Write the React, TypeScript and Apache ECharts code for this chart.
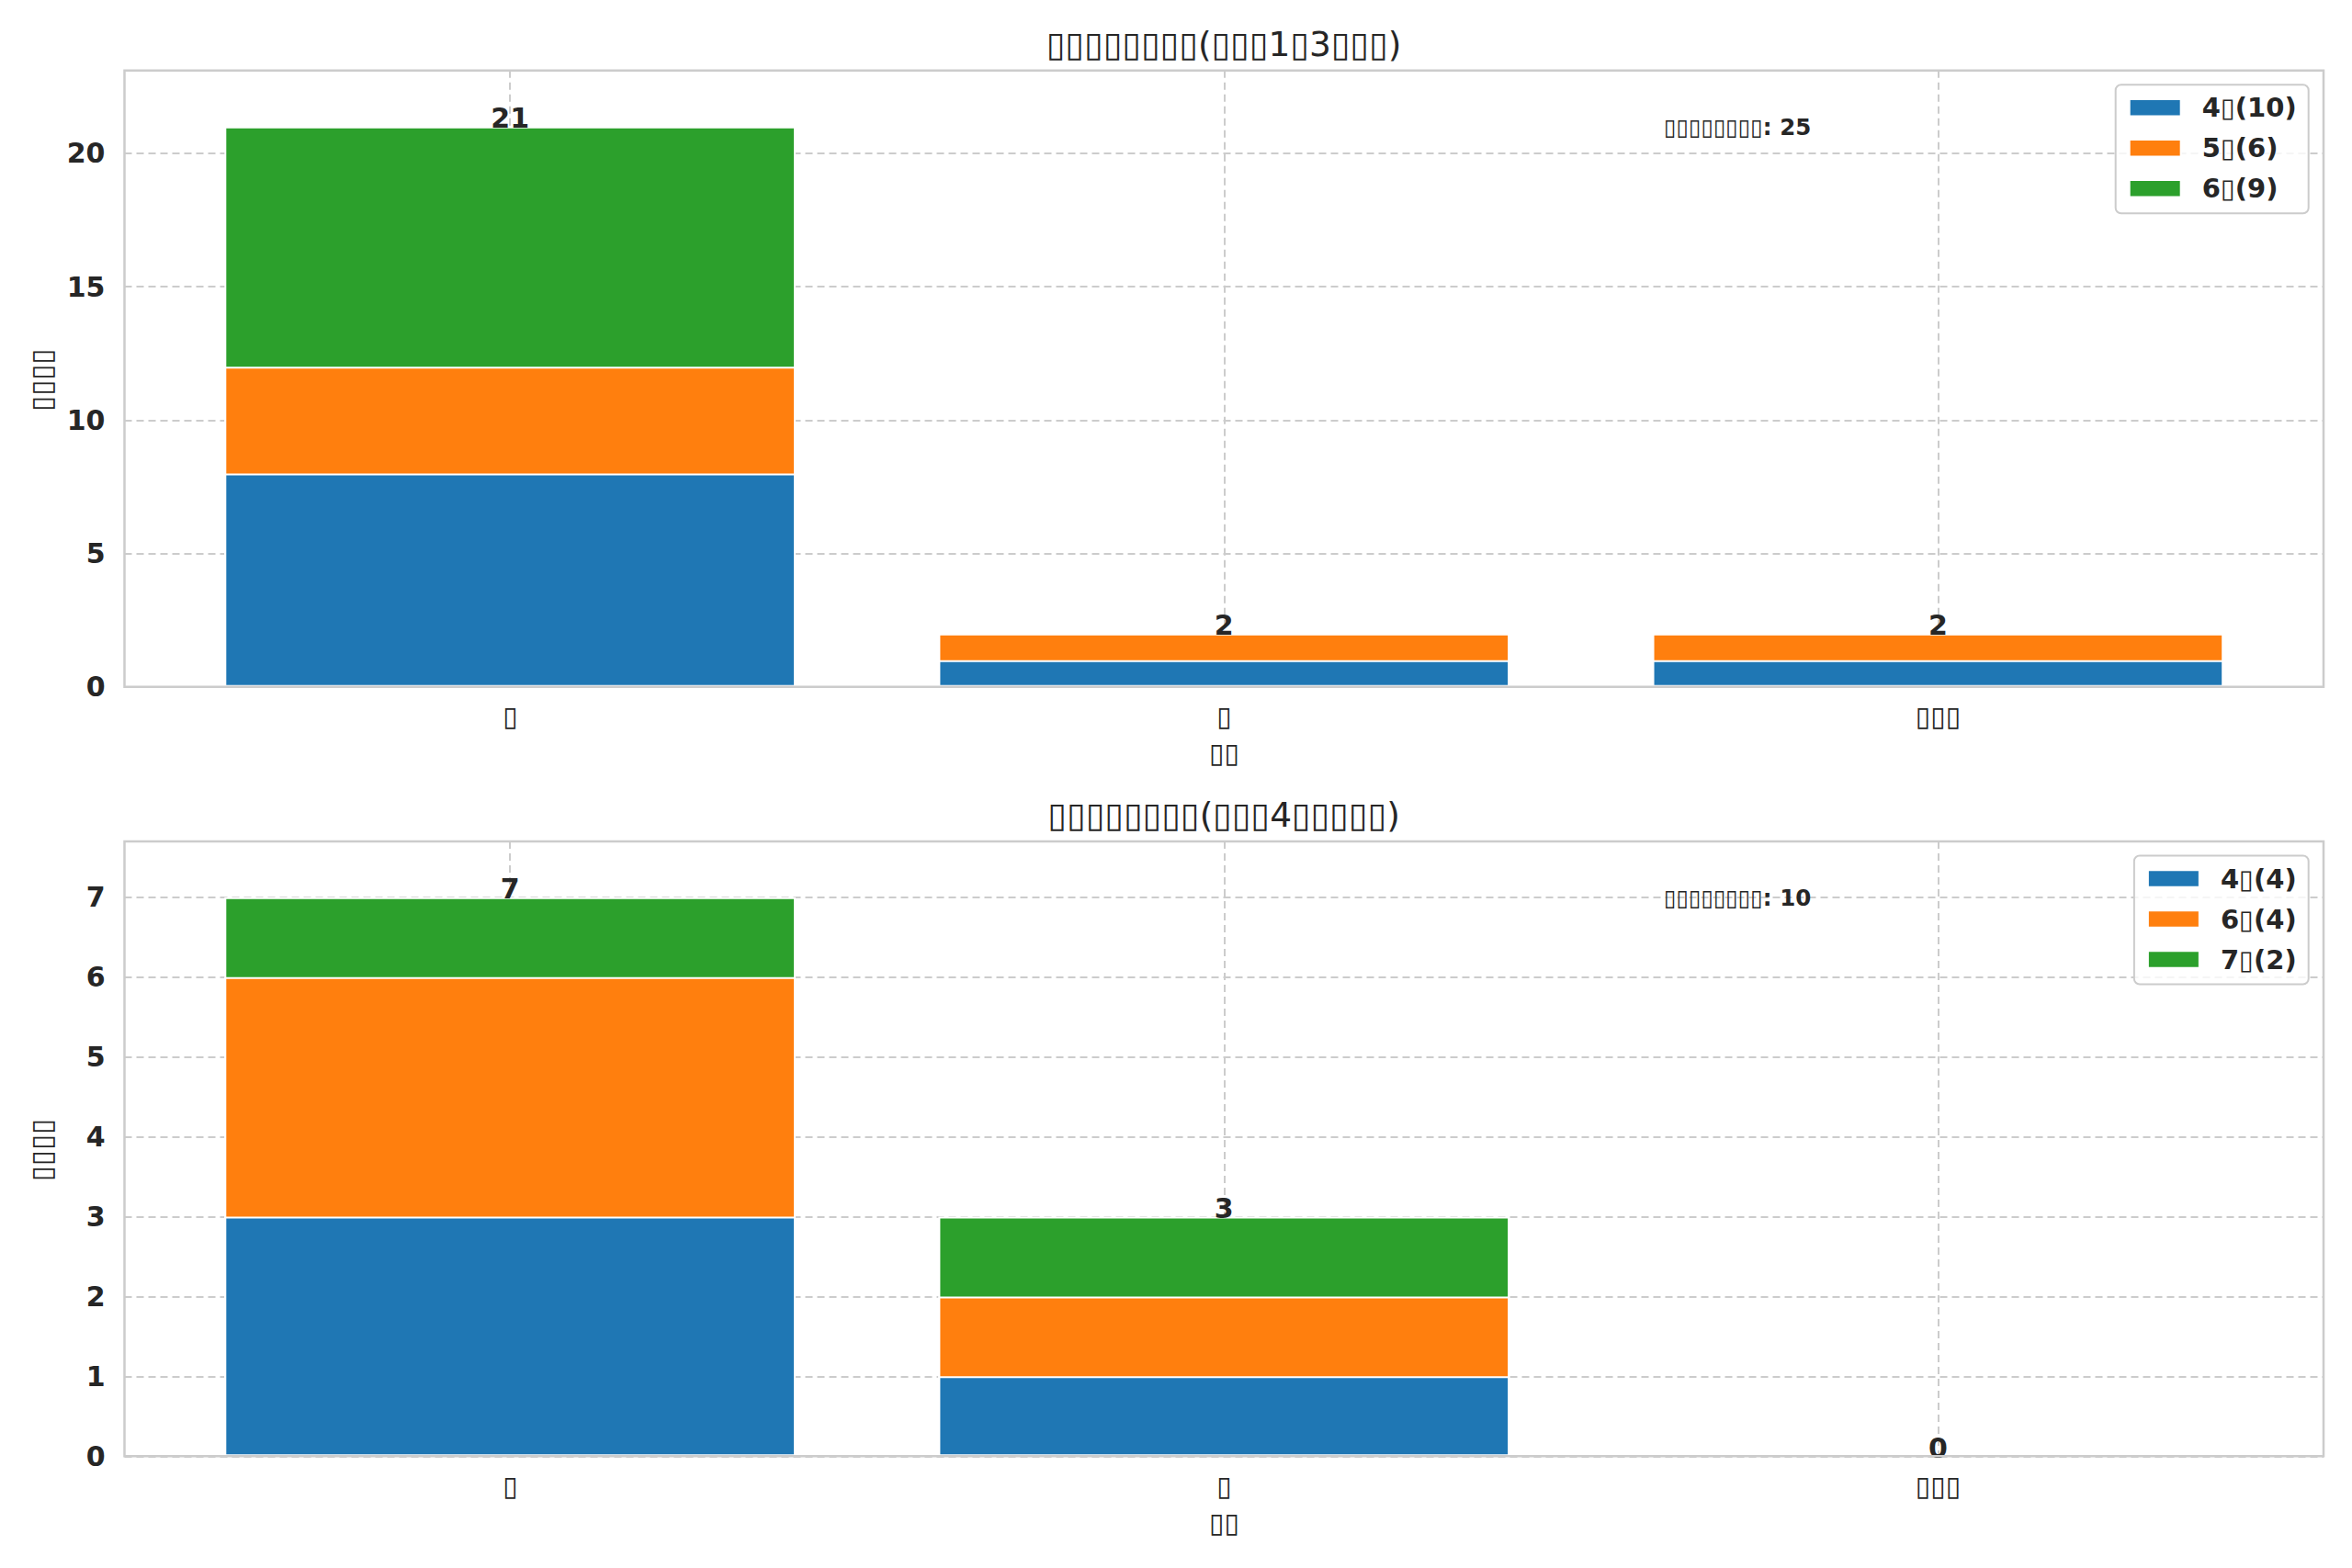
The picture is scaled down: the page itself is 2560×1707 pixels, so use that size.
import { useEffect, useRef } from "react";
import * as echarts from "echarts";

// ---------- data ----------
const BOX = "\u25AF"; // the picture shows missing-glyph boxes in place of CJK characters
const categories = [BOX, BOX, BOX.repeat(3)];
const xPositions = [0, 1, 2];
const panelTitles = [
  `${BOX.repeat(8)}(${BOX.repeat(3)}1${BOX}3${BOX.repeat(3)})`,
  `${BOX.repeat(8)}(${BOX.repeat(3)}4${BOX.repeat(5)})`,
];
const xAxisTitle = BOX.repeat(2);
const yAxisTitle = BOX.repeat(4);
const totalCaption = BOX.repeat(8);

const topMonths = ["4", "5", "6"];
const topValues = [
  [8, 1, 1],
  [4, 1, 1],
  [9, 0, 0],
];
const bottomMonths = ["4", "6", "7"];
const bottomValues = [
  [3, 1, 0],
  [3, 1, 0],
  [1, 1, 0],
];
const topYMax = 23.1;
const topYStep = 5;
const bottomYMax = 7.7;
const bottomYStep = 1;
const colors = ["#1f77b4", "#ff7f0e", "#2ca02c"];

// ---------- layout ----------
const W = 2560;
const H = 1707;
const FONT = "DejaVu Sans";
const TEXT = "#262626";
const FRAME = "#cccccc";
const GRID_LEFT = 135.5;
const GRID_RIGHT = 31;
const PLOT_W = W - GRID_LEFT - GRID_RIGHT;
const X_MIN = -0.54;
const X_MAX = 2.54;
const BAR_W = (0.8 * PLOT_W) / (X_MAX - X_MIN);
const PANELS = [
  { top: 76.7, height: 671.1 },
  { top: 915.9, height: 669.4 },
];
const GRID_LINE = { color: "#cccccc", type: [8, 5] as number[], width: 2 };

function buildOption() {
  const panelData = [
    { months: topMonths, values: topValues, yMax: topYMax, step: topYStep },
    { months: bottomMonths, values: bottomValues, yMax: bottomYMax, step: bottomYStep },
  ];

  const grid: any[] = [];
  const xAxis: any[] = [];
  const yAxis: any[] = [];
  const series: any[] = [];
  const legend: any[] = [];
  const graphic: any[] = [];

  panelData.forEach((pd, pi) => {
    const p = PANELS[pi];
    const bottom = p.top + p.height;
    grid.push({
      left: GRID_LEFT,
      right: GRID_RIGHT,
      top: p.top,
      height: p.height,
      show: true,
      borderWidth: 0,
      backgroundColor: "#ffffff",
    });
    xAxis.push({
      type: "value",
      gridIndex: pi,
      min: X_MIN,
      max: X_MAX,
      axisLine: { show: false },
      axisTick: { show: false, customValues: xPositions },
      axisLabel: {
        customValues: xPositions,
        formatter: (v: number) => categories[Math.round(v)] ?? "",
        fontSize: 30,
        fontFamily: FONT,
        color: TEXT,
        margin: 32,
        verticalAlign: "middle",
        lineHeight: 30,
      },
      splitLine: { show: true, lineStyle: GRID_LINE },
    });
    yAxis.push({
      type: "value",
      gridIndex: pi,
      min: 0,
      max: pd.yMax,
      interval: pd.step,
      axisLine: { show: false },
      axisTick: { show: false },
      axisLabel: {
        showMaxLabel: false,
        fontSize: 30,
        fontWeight: "bold",
        fontFamily: FONT,
        color: TEXT,
        margin: 21,
        padding: [5, 0, 0, 0],
      },
      splitLine: { show: true, lineStyle: GRID_LINE },
    });

    const names = pd.months.map(
      (m, si) => `${m}${BOX}(${pd.values[si].reduce((a, b) => a + b, 0)})`
    );
    // running tops of each stacked segment
    const tops = pd.values.map((_, si) =>
      xPositions.map((_, i) => pd.values.slice(0, si + 1).reduce((a, s) => a + s[i], 0))
    );
    const last = pd.values.length - 1;
    // draw tallest segment first so that lower segments lie on top of it
    for (let si = last; si >= 0; si--) {
      series.push({
        type: "bar",
        name: names[si],
        xAxisIndex: pi,
        yAxisIndex: pi,
        barWidth: BAR_W,
        barGap: "-100%",
        data: tops[si].map((v, i) => ({
          value: [xPositions[i], v],
          itemStyle: v === 0 ? { borderWidth: 0 } : undefined,
        })),
        itemStyle: { color: colors[si], borderColor: "#ffffff", borderWidth: 2 },
        label:
          si === last
            ? {
                show: true,
                position: "top",
                distance: 9,
                verticalAlign: "middle",
                formatter: (prm: any) => String(prm.value[1]),
                fontSize: 30,
                fontWeight: "bold",
                fontFamily: FONT,
                color: TEXT,
              }
            : { show: false },
      });
    }
    legend.push({
      orient: "vertical",
      right: 47.3,
      top: p.top + 15.6,
      data: names,
      icon: "rect",
      itemWidth: 56,
      itemHeight: 18.4,
      itemGap: 14,
      padding: [10, 13, 12, 14],
      borderColor: "#cccccc",
      borderWidth: 2,
      borderRadius: 6,
      backgroundColor: "rgba(255,255,255,0.8)",
      selectedMode: false,
      z: 20,
      textStyle: {
        fontSize: 29,
        fontWeight: "bold",
        fontFamily: FONT,
        color: TEXT,
        lineHeight: 30,
        padding: [0, 0, 0, 18],
      },
    });

    const grand = tops[last].reduce((a, b) => a + b, 0);
    const cx = GRID_LEFT + PLOT_W / 2;
    graphic.push(
      {
        type: "rect",
        z: 15,
        silent: true,
        shape: { x: GRID_LEFT, y: p.top, width: PLOT_W, height: p.height },
        style: { fill: "none", stroke: FRAME, lineWidth: 2.5 },
      },
      {
        type: "text",
        x: cx,
        y: p.top - 28.5,
        style: {
          text: panelTitles[pi],
          align: "center",
          verticalAlign: "middle",
          fontSize: 37.5,
          fontFamily: FONT,
          fill: TEXT,
        },
      },
      {
        type: "text",
        x: cx,
        y: bottom + 72,
        style: {
          text: xAxisTitle,
          align: "center",
          verticalAlign: "middle",
          fontSize: 30,
          fontFamily: FONT,
          fill: TEXT,
        },
      },
      {
        type: "text",
        x: 44.5,
        y: p.top + p.height / 2 + 1.5,
        rotation: Math.PI / 2,
        style: {
          text: yAxisTitle,
          align: "center",
          verticalAlign: "middle",
          fontSize: 31,
          fontFamily: FONT,
          fill: TEXT,
        },
      },
      {
        type: "text",
        x: GRID_LEFT + 0.7 * PLOT_W,
        y: p.top + 61.3,
        z: 10,
        style: {
          text: `${totalCaption}: ${grand}`,
          align: "left",
          verticalAlign: "middle",
          fontSize: 24.5,
          fontWeight: "bold",
          fontFamily: FONT,
          fill: TEXT,
        },
      }
    );
  });

  return {
    animation: false,
    backgroundColor: "#ffffff",
    grid,
    xAxis,
    yAxis,
    series,
    legend,
    graphic,
  };
}

export default function App() {
  const ref = useRef<HTMLDivElement>(null);
  useEffect(() => {
    if (!ref.current) return;
    const chart = echarts.init(ref.current, undefined, { renderer: "svg" });
    chart.setOption(buildOption() as any);
    return () => chart.dispose();
  }, []);
  return (
    <div
      ref={ref}
      style={{ position: "absolute", left: 0, top: 0, width: W, height: H, background: "#fff" }}
    />
  );
}
